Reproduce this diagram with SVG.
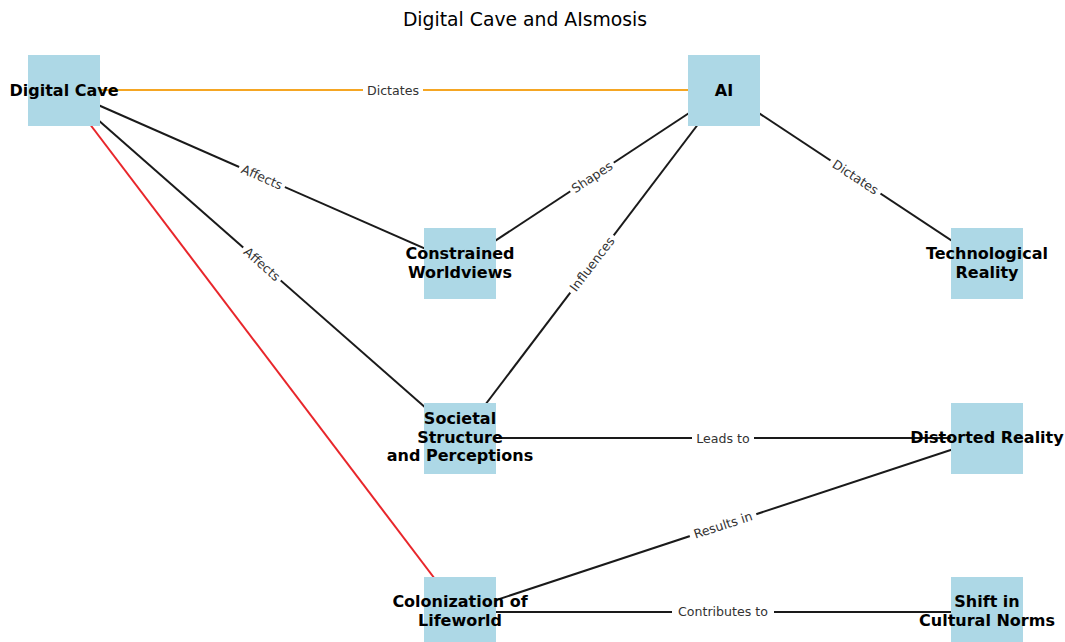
<svg xmlns="http://www.w3.org/2000/svg" width="1065" height="642" viewBox="0 0 1065 642">
<style>
.box{fill:#ADD8E6}
.nl{font-family:"DejaVu Sans",sans-serif;font-weight:bold;font-size:16px;fill:#000;text-anchor:middle}
.e{stroke:#1a1a1a;stroke-width:2;fill:none}
.el{font-family:"DejaVu Sans",sans-serif;font-size:12.6px;fill:#333;text-anchor:middle;dominant-baseline:central}
.bg{fill:#fff}
</style>
<rect width="1065" height="642" fill="#fff"/>
<text x="525" y="26" font-family="DejaVu Sans, sans-serif" font-size="18.8" text-anchor="middle" fill="#000">Digital Cave and AIsmosis</text>
<g id="connectors">
<line x1="64" y1="90" x2="724" y2="90" stroke="#F5A623" stroke-width="2"/>
<line class="e" x1="64" y1="90" x2="460" y2="264"/>
<line class="e" x1="64" y1="90" x2="460" y2="438"/>
<line x1="64" y1="90" x2="460" y2="612" stroke="#E8262B" stroke-width="2"/>
<line class="e" x1="724" y1="90" x2="460" y2="264"/>
<line class="e" x1="724" y1="90" x2="460" y2="438"/>
<line class="e" x1="724" y1="90" x2="987" y2="264"/>
<line class="e" x1="460" y1="438" x2="987" y2="438"/>
<line class="e" x1="460" y1="612" x2="987" y2="438"/>
<line class="e" x1="460" y1="612" x2="987" y2="612"/>
</g>
<g id="n-digital-cave"><rect class="box" x="28" y="55" width="72" height="71"/></g>
<g id="n-ai"><rect class="box" x="688" y="55" width="72" height="71"/></g>
<g id="n-constrained"><rect class="box" x="424" y="228" width="72" height="71"/></g>
<g id="n-technological"><rect class="box" x="951" y="228" width="72" height="71"/></g>
<g id="n-societal"><rect class="box" x="424" y="403" width="72" height="71"/></g>
<g id="n-distorted"><rect class="box" x="951" y="403" width="72" height="71"/></g>
<g id="n-colonization"><rect class="box" x="424" y="577" width="72" height="71"/></g>
<g id="n-shift"><rect class="box" x="951" y="577" width="72" height="71"/></g>
<g id="edge-labels">
<g transform="translate(393,90)"><rect class="bg" x="-30" y="-8" width="60" height="16"/><text class="el">Dictates</text></g>
<g transform="translate(262,177) rotate(23.7)"><rect class="bg" x="-25" y="-8" width="50" height="16"/><text class="el">Affects</text></g>
<g transform="translate(262,264) rotate(41.3)"><rect class="bg" x="-25" y="-8" width="50" height="16"/><text class="el">Affects</text></g>
<g transform="translate(592,177) rotate(-33.4)"><rect class="bg" x="-26" y="-8" width="52" height="16"/><text class="el">Shapes</text></g>
<g transform="translate(592,264) rotate(-52.8)"><rect class="bg" x="-36" y="-8" width="72" height="16"/><text class="el">Influences</text></g>
<g transform="translate(855.5,177) rotate(33.4)"><rect class="bg" x="-30" y="-8" width="60" height="16"/><text class="el">Dictates</text></g>
<g transform="translate(723,438)"><rect class="bg" x="-31" y="-8" width="62" height="16"/><text class="el">Leads to</text></g>
<g transform="translate(723,525) rotate(-18.3)"><rect class="bg" x="-35" y="-8" width="70" height="16"/><text class="el">Results in</text></g>
<g transform="translate(723,611)"><rect class="bg" x="-51" y="-8" width="102" height="16"/><text class="el">Contributes to</text></g>
</g>
<g id="node-labels">
<text class="nl" x="64" y="96">Digital Cave</text>
<text class="nl" x="724" y="96">AI</text>
<text class="nl" x="460" y="259">Constrained</text>
<text class="nl" x="460" y="278">Worldviews</text>
<text class="nl" x="987" y="259">Technological</text>
<text class="nl" x="987" y="278">Reality</text>
<text class="nl" x="460" y="424">Societal</text>
<text class="nl" x="460" y="443">Structure</text>
<text class="nl" x="460" y="461">and Perceptions</text>
<text class="nl" x="987" y="443">Distorted Reality</text>
<text class="nl" x="460" y="607">Colonization of</text>
<text class="nl" x="460" y="626">Lifeworld</text>
<text class="nl" x="987" y="607">Shift in</text>
<text class="nl" x="987" y="626">Cultural Norms</text>
</g>
</svg>
